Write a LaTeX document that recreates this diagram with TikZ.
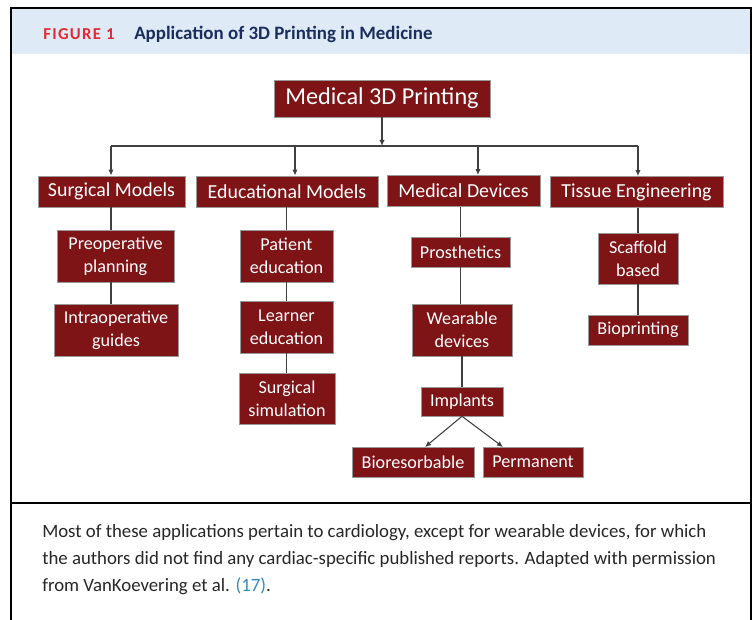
\documentclass[tikz,border=0pt]{standalone}
\usepackage{fontspec}
\setmainfont{Carlito}
\usepackage{xcolor}
\usepackage{tikz}
\usetikzlibrary{arrows.meta}
\definecolor{boxred}{HTML}{7E1416}
\definecolor{headblue}{HTML}{DEEAF6}
\definecolor{figred}{HTML}{E22A33}
\definecolor{navy}{HTML}{1B2D5C}
\definecolor{refblue}{HTML}{2F8DC3}
\tikzstyle{box}=[rectangle,draw=gray!80,fill=boxred,text=white,inner sep=0pt,align=center,font=\fontsize{13.6pt}{17pt}\selectfont]
\tikzstyle{topbox}=[box,font=\fontsize{14.9pt}{17pt}\selectfont,minimum height=23.5pt]
\tikzstyle{link}=[draw=black!75,line width=0.8pt]

\begin{document}
\begin{tikzpicture}[x=0.75pt,y=-0.75pt,>={Latex[length=4.5pt,width=4pt]}]
        \useasboundingbox (0,0) rectangle (756,620);
        % frame and header
        \fill[headblue] (11,9) rectangle (751,54);
        \draw[line width=1.3pt] (11,620) -- (11,8) -- (751,8) -- (751,620);
        \draw[line width=1pt] (11,503) -- (751,503);
        \node at (43,34) [anchor=west,inner sep=0pt,text=figred,font=\bfseries\fontsize{12.5pt}{14pt}\selectfont\addfontfeature{LetterSpace=8}] (fig) {FIGURE 1};
        \node at (134,34) [anchor=west,inner sep=0pt,text=navy,font=\bfseries\fontsize{14.2pt}{16pt}\selectfont] (title) {Application of 3D Printing in Medicine};

        % tree
        \node at (382,98.5) [box,minimum width=162pt,minimum height=27.75pt,font=\fontsize{18.2pt}{21pt}\selectfont] (main) {Medical 3D Printing};

        \node at (111.5,191.5) [topbox,minimum width=110.25pt] (surg) {Surgical Models};
        \node at (287,191.5)   [topbox,minimum width=136.5pt]  (edu)  {Educational Models};
        \node at (463.5,191)   [topbox,minimum width=114.75pt] (dev)  {Medical Devices};
        \node at (636.5,192)   [topbox,minimum width=129.75pt] (tis)  {Tissue Engineering};

        \node at (115.5,256) [box,minimum width=87.75pt,minimum height=39pt] (preop) {Preoperative\\planning};
        \node at (116,330)   [box,minimum width=93pt,minimum height=39pt]    (intra) {Intraoperative\\guides};

        \node at (286.5,256) [box,minimum width=69.75pt,minimum height=39pt]  (pat)   {Patient\\education};
        \node at (286.5,327) [box,minimum width=69.75pt,minimum height=39pt]  (learn) {Learner\\education};
        \node at (287,398.5) [box,minimum width=72pt,minimum height=38.25pt]  (sim)   {Surgical\\simulation};

        \node at (460.5,252) [box,minimum width=74.25pt,minimum height=22.5pt] (pros) {Prosthetics};
        \node at (462,330)   [box,minimum width=75pt,minimum height=39pt]      (wear) {Wearable\\devices};
        \node at (462,401.5) [box,minimum width=61.5pt,minimum height=21.75pt] (impl) {Implants};
        \node at (413,462)   [box,minimum width=91.5pt,minimum height=22.5pt]  (bio)  {Bioresorbable};
        \node at (533,462)   [box,minimum width=75pt,minimum height=22.5pt]    (perm) {Permanent};

        \node at (638,258.5) [box,minimum width=60pt,minimum height=38.25pt] (scaf) {Scaffold\\based};
        \node at (638,330)   [box,minimum width=75pt,minimum height=22.5pt]  (bprn) {Bioprinting};

        \coordinate (bar) at (382,146);
        \coordinate (bS) at (111,146);
        \coordinate (bE) at (295,146);
        \coordinate (bD) at (478,146);
        \coordinate (bT) at (638,146);

        \draw [link,->] (main) -- (bar);
        \draw [link] (bS) -- (bT);
        \draw [link,->] (bS) -- (bS |- surg.north);
        \draw [link,->] (bE) -- (bE |- edu.north);
        \draw [link,->] (bD) -- (bD |- dev.north);
        \draw [link,->] (bT) -- (bT |- tis.north);

        \draw [link] (surg.south -| bS) -- (bS |- preop.north);
        \draw [link] (preop.south -| bS) -- (bS |- intra.north);
        \draw [link] (pat.north) -- (pat.north |- edu.south);
        \draw [link] (pat) -- (learn);
        \draw [link] (learn) -- (learn |- sim.north);
        \draw [link] (pros.north) -- (pros.north |- dev.south);
        \draw [link] (pros.south) -- (pros.south |- wear.north);
        \draw [link] (impl.north) -- (impl.north |- wear.south);
        \draw [link,->] (impl.south) -- (425,447);
        \draw [link,->] (impl.south) -- (503,447);
        \draw [link] (scaf.north) -- (scaf.north |- tis.south);
        \draw [link] (scaf) -- (bprn);

        % caption
        \node at (42,560) [anchor=west,inner sep=0pt,align=left,text=black!85,font=\fontsize{14.1pt}{20.25pt}\selectfont] (cap) {Most of these applications pertain to cardiology, except for wearable devices, for which\\the authors did not find any cardiac-specific published reports. Adapted with permission\\from VanKoevering et al. \textcolor{refblue}{(17)}.};
\end{tikzpicture}
\end{document}
